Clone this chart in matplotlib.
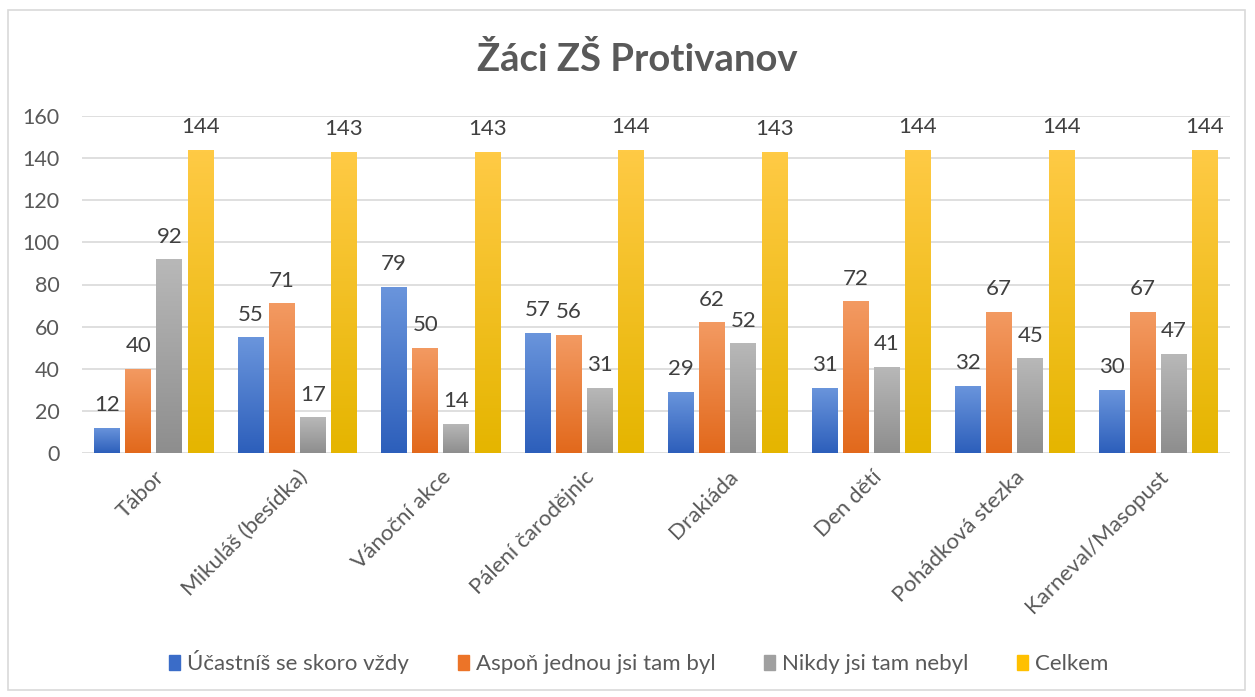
import matplotlib
matplotlib.use("Agg")
import matplotlib.pyplot as plt
import numpy as np
from matplotlib.colors import LinearSegmentedColormap
from matplotlib.patches import Rectangle

categories = ["Tábor", "Mikuláš (besídka)", "Vánoční akce", "Pálení čarodějnic",
              "Drakiáda", "Den dětí", "Pohádková stezka", "Karneval/Masopust"]
series_names = ["Účastníš se skoro vždy", "Aspoň jednou jsi tam byl",
                "Nikdy jsi tam nebyl", "Celkem"]
ucastnis = [12, 55, 79, 57, 29, 31, 32, 30]
aspon = [40, 71, 50, 56, 62, 72, 67, 67]
nikdy = [92, 17, 14, 31, 52, 41, 45, 47]
celkem = [144, 143, 143, 144, 143, 144, 144, 144]
yticks = [0, 20, 40, 60, 80, 100, 120, 140, 160]
title = "Žáci ZŠ Protivanov"

series = [ucastnis, aspon, nikdy, celkem]
grads = [("#6a95dc", "#2d5fbb"), ("#f39a62", "#e2691c"),
         ("#b8b8b8", "#8e8e8e"), ("#ffca45", "#e5b500")]
legend_cols = ["#3a6cc8", "#ec7428", "#a0a0a0", "#ffc000"]

plt.rcParams['font.family'] = ['Lato', 'DejaVu Sans']
txt = "#595959"

fig = plt.figure(figsize=(12.55, 6.97), dpi=100)
fig.patches.append(Rectangle((8/1255, 7/697), 1237/1255, 680/697, transform=fig.transFigure,
                             fill=False, edgecolor="#d9d9d9", linewidth=1.2))
ax = fig.add_axes([82/1255, 244/697, 1148/1255, 337/697])

x = np.arange(len(categories))
w = 0.18
step = 0.217
for i, (vals, (ctop, cbot)) in enumerate(zip(series, grads)):
    offs = (i - 1.5) * step
    cmap = LinearSegmentedColormap.from_list("g%d" % i, [cbot, ctop])
    bars = ax.bar(x + offs, vals, width=w, color=legend_cols[i], label=series_names[i], zorder=2)
    for b, v in zip(bars, vals):
        grad = np.linspace(0, 1, 100).reshape(-1, 1)
        im = ax.imshow(grad, cmap=cmap, origin="lower", aspect="auto",
                       extent=(b.get_x(), b.get_x() + b.get_width(), 0, v), zorder=3)
        im.set_clip_path(b)
        ax.text(b.get_x() + b.get_width() / 2, v + 6, str(v), ha="center", va="bottom",
                fontsize=16, color="#404040", zorder=4)

ax.set_xlim(-0.5, len(categories) - 0.5)
ax.set_ylim(0, 160)
ax.set_yticks(yticks)
ax.set_yticklabels([str(t) for t in yticks], fontsize=15.5, color=txt)
ax.set_xticks(x)
ax.set_xticklabels(categories, rotation=45, ha="right", rotation_mode="anchor",
                   fontsize=16, color=txt)
ax.tick_params(axis="both", length=0, pad=10)
ax.tick_params(axis="y", pad=16)
ax.grid(axis="y", color="#d9d9d9", linewidth=1.2, zorder=0)
ax.set_axisbelow(True)
for s in ax.spines.values():
    s.set_visible(False)

fig.text(0.508, 0.915, title, ha="center", va="center", fontsize=27.5,
         fontweight="bold", color=txt)

handles = [Rectangle((0, 0), 1, 1, color=c) for c in legend_cols]
fig.legend(handles, series_names, loc="center", bbox_to_anchor=(0.509, 0.05), ncol=4,
           frameon=False, fontsize=16, labelcolor=txt, handlelength=0.5, handleheight=0.7,
           handletextpad=0.3, columnspacing=2.2)

fig.savefig("out.png", dpi=100)
